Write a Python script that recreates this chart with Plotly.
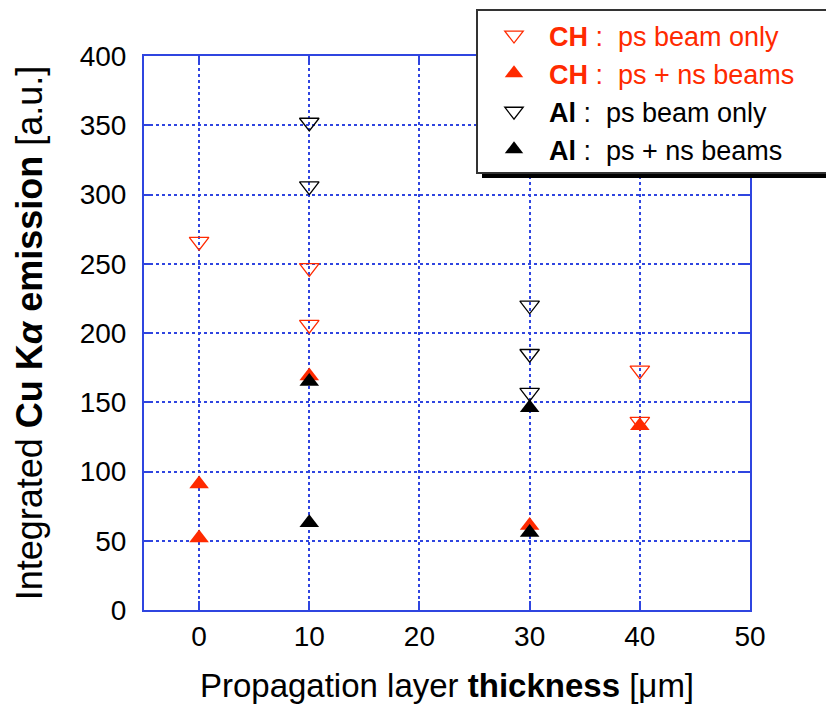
import plotly.graph_objects as go

# Data
ch_ps_x = [0, 10, 10, 40, 40]
ch_ps_y = [266, 247, 206, 173, 136]

ch_psns_x = [0, 0, 10, 30, 40]
ch_psns_y = [91, 52, 169, 61, 133]

al_ps_x = [10, 10, 30, 30, 30]
al_ps_y = [352, 306, 220, 185, 157]

al_psns_x = [10, 10, 30, 30]
al_psns_y = [165, 63, 146, 56]

x_ticks = [0, 10, 20, 30, 40, 50]
y_ticks = [0, 50, 100, 150, 200, 250, 300, 350, 400]

RED = "#ff2a00"
BLUE = "#2f45e0"
FONT = "Liberation Sans, Arial, sans-serif"
MS = 17

fig = go.Figure()
fig.add_trace(go.Scatter(
    x=ch_ps_x, y=ch_ps_y, mode="markers", legendgroup="a",
    name="<span style='color:%s'>\u00a0\u00a0<b>CH</b> :  ps beam only</span>" % RED,
    marker=dict(symbol="triangle-down-open", size=MS, color=RED, line=dict(width=1.3, color=RED))))
fig.add_trace(go.Scatter(
    x=ch_psns_x, y=ch_psns_y, mode="markers", legendgroup="b",
    name="<span style='color:%s'>\u00a0\u00a0<b>CH</b> :  ps + ns beams</span>" % RED,
    marker=dict(symbol="triangle-up", size=MS, color=RED, line=dict(width=0))))
fig.add_trace(go.Scatter(
    x=al_ps_x, y=al_ps_y, mode="markers", legendgroup="c",
    name="\u00a0\u00a0<b>Al</b> :  ps beam only",
    marker=dict(symbol="triangle-down-open", size=MS, color="black", line=dict(width=1.3, color="black"))))
fig.add_trace(go.Scatter(
    x=al_psns_x, y=al_psns_y, mode="markers", legendgroup="d",
    name="\u00a0\u00a0<b>Al</b> :  ps + ns beams",
    marker=dict(symbol="triangle-up", size=MS, color="black", line=dict(width=0))))

OFF = 8  # page body margin
W, H = 834 - OFF, 707 - OFF
PL, PR, PT, PB = 144, 750, 56, 610  # plot area in page pixels
L, T = PL - OFF, PT - OFF
pw, ph = PR - PL, PB - PT
R = W - L - pw
B = H - T - ph

def px(xp):
    return (xp - PL) / pw

def py(yp):
    return (PB - yp) / ph

# legend box with shadow
fig.add_shape(type="rect", xref="paper", yref="paper",
              x0=px(482), x1=px(840), y0=py(178), y1=py(15),
              fillcolor="black", line=dict(width=0), layer="above")
fig.add_shape(type="rect", xref="paper", yref="paper",
              x0=px(477), x1=px(832), y0=py(173), y1=py(10),
              fillcolor="white", line=dict(width=2, color="#333333"), layer="above")

axis_common = dict(
    showline=True, linecolor=BLUE, linewidth=2, mirror="ticks",
    ticks="inside", ticklen=9, tickcolor=BLUE, tickwidth=2,
    showgrid=True, gridcolor=BLUE, gridwidth=1.5, griddash="dot",
    zeroline=False,
    tickfont=dict(family=FONT, size=28, color="black"),
)

fig.update_xaxes(range=[-5, 50], tickvals=x_ticks, ticktext=[str(v) for v in x_ticks],
                 title=dict(text="Propagation layer <b>thickness</b> [μm]",
                            font=dict(family=FONT, size=33, color="black"), standoff=23),
                 **axis_common)
fig.update_yaxes(range=[0, 400], tickvals=y_ticks, ticktext=[str(v) for v in y_ticks],
                 ticklabelstandoff=10,
                 title=dict(text="Integrated <b>Cu K<i>α</i> emission</b> [a.u.]",
                            font=dict(family=FONT, size=36, color="black"), standoff=26),
                 **axis_common)

fig.update_layout(
    width=W, height=H,
    margin=dict(l=L, r=R, t=T, b=B, autoexpand=False),
    paper_bgcolor="white", plot_bgcolor="white",
    showlegend=True,
    legend=dict(x=px(494), y=py(11), xanchor="left", yanchor="top",
                bgcolor="rgba(0,0,0,0)", borderwidth=0,
                font=dict(family=FONT, size=27, color="black"),
                tracegroupgap=0, itemsizing="trace"),
)

fig.write_html("out.html")
